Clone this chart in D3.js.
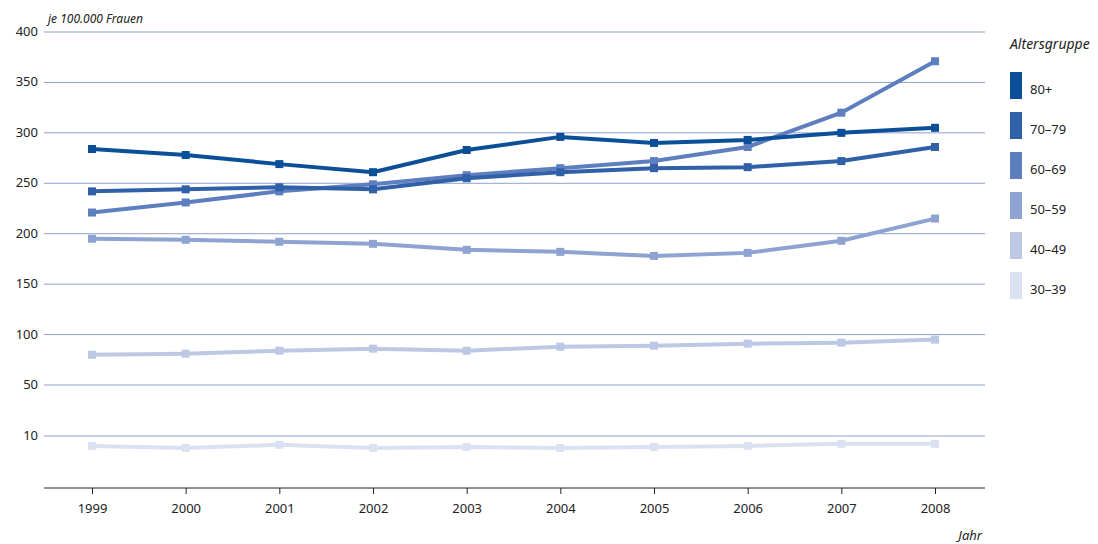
<!DOCTYPE html>
<html><head><meta charset="utf-8">
<script src="https://cdn.jsdelivr.net/npm/d3@7"></script>
<style>body{margin:0;background:#fff}text{font-family:"Noto Sans",sans-serif;fill:#222}</style>
</head><body><div id="chart"></div>
<script>
const years = [1999, 2000, 2001, 2002, 2003, 2004, 2005, 2006, 2007, 2008];
const groups = ['80+', '70–79', '60–69', '50–59', '40–49', '30–39'];
const colors = ['#0a4f97', '#2f60a8', '#5d7ebf', '#8fa3d2', '#bdc8e5', '#dce1f1'];
const v80 = [284, 278, 269, 261, 283, 296, 290, 293, 300, 305];
const v70 = [242, 244, 246, 244, 255, 261, 265, 266, 272, 286];
const v60 = [221, 231, 242, 249, 258, 265, 272, 286, 320, 371];
const v50 = [195, 194, 192, 190, 184, 182, 178, 181, 193, 215];
const v40 = [80, 81, 84, 86, 84, 88, 89, 91, 92, 95];
const v30 = [8.1, 7.7, 8.3, 7.7, 7.9, 7.7, 7.9, 8.1, 8.5, 8.5];
const series = [v80, v70, v60, v50, v40, v30];
const yTicks = [10, 50, 100, 150, 200, 250, 300, 350, 400];

const svg = d3.select('#chart').append('svg').attr('width', 1098).attr('height', 544);
const x = d3.scalePoint().domain(years).range([92, 935]);
const y = d3.scaleLinear().domain([0, 10, 50, 400]).range([488, 436, 385, 32]);

// grid
svg.append('g').selectAll('line').data(yTicks).join('line')
  .attr('x1', 44).attr('x2', 985).attr('y1', d => y(d)).attr('y2', d => y(d))
  .attr('stroke', '#8ea0cc').attr('stroke-width', 1);
svg.append('g').selectAll('text').data(yTicks).join('text')
  .attr('x', 38).attr('y', d => y(d) + 4).attr('text-anchor', 'end')
  .style('font-size', '13px').text(d => d);

// x axis
const xa = svg.append('g').attr('transform', 'translate(0,488)')
  .call(d3.axisBottom(x).tickSize(6).tickSizeOuter(0));
xa.select('.domain').remove();
xa.selectAll('line').attr('stroke', '#222');
xa.selectAll('text').style('font-size', '13px').attr('dy', '1.2em');
svg.append('line').attr('x1', 44).attr('x2', 985).attr('y1', 488).attr('y2', 488).attr('stroke', '#222');

svg.append('text').attr('x', 48).attr('y', 23).style('font-size', '12px').style('font-style', 'italic').text('je 100.000 Frauen');
svg.append('text').attr('x', 982).attr('y', 540).attr('text-anchor', 'end').style('font-size', '13px').style('font-style', 'italic').text('Jahr');

const line = d3.line().x((d, i) => x(years[i])).y(d => y(d));
series.slice().reverse().forEach((s, ri) => {
  const c = colors[series.length - 1 - ri];
  svg.append('path').attr('d', line(s)).attr('fill', 'none').attr('stroke', c).attr('stroke-width', 4);
  svg.append('g').selectAll('rect').data(s).join('rect')
    .attr('x', (d, i) => x(years[i]) - 4).attr('y', d => y(d) - 4)
    .attr('width', 8).attr('height', 8).attr('fill', c);
});

// legend
svg.append('text').attr('x', 1010).attr('y', 49).style('font-size', '14px').style('font-style', 'italic').text('Altersgruppe');
const lg = svg.append('g').selectAll('g').data(groups).join('g')
  .attr('transform', (d, i) => `translate(1010,${72 + i * 40})`);
lg.append('rect').attr('width', 12).attr('height', 27).attr('fill', (d, i) => colors[i]);
lg.append('text').attr('x', 20).attr('y', 22).style('font-size', '13px').text(d => d);
</script></body></html>
